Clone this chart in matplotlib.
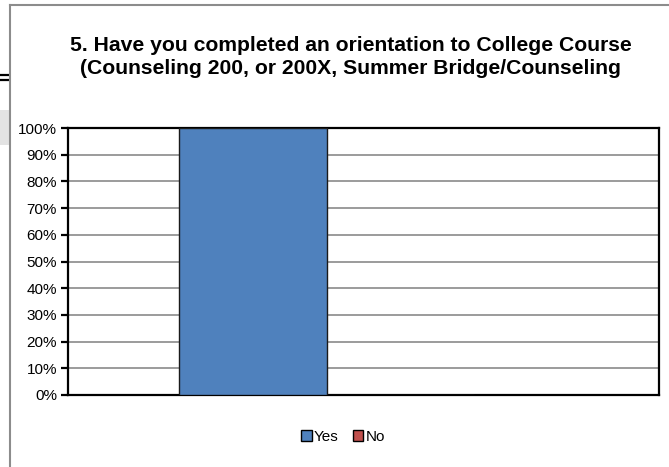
import matplotlib.pyplot as plt
from matplotlib.patches import Rectangle
from matplotlib.lines import Line2D

plt.rcParams['font.family'] = ['Liberation Sans', 'DejaVu Sans']

# Data
title = ("5. Have you completed an orientation to College Course\n"
         "(Counseling 200, or 200X, Summer Bridge/Counseling")
series = ["Yes", "No"]
values = [100, 0]
colors = ["#4F81BD", "#C0504D"]
yticks = list(range(0, 101, 10))

fig = plt.figure(figsize=(6.69, 4.67), dpi=100)

# bits of the page behind the chart (left edge)
fig.add_artist(Line2D([0, 8 / 669], [1 - 75 / 467] * 2, color="black", lw=1.6))
fig.add_artist(Line2D([0, 8 / 669], [1 - 80 / 467] * 2, color="black", lw=1.6))
fig.add_artist(Rectangle((0, 1 - 145 / 467), 9 / 669, 35 / 467, color="#e3e3e3", lw=0))

# chart area border
fig.add_artist(Line2D([9.5 / 669, 9.5 / 669], [0, 1 - 5 / 467], color="#8c8c8c", lw=1.5))
fig.add_artist(Line2D([9.5 / 669, 1], [1 - 5 / 467] * 2, color="#8c8c8c", lw=1.5))

ax = fig.add_axes([68 / 669, 1 - 395 / 467, 591 / 669, 267 / 467])

width = 0.25
for i, (name, v, c) in enumerate(zip(series, values, colors)):
    ax.bar((i - 0.5) * width, v, width, color=c, edgecolor="#1a1a1a",
           linewidth=1.0, label=name, zorder=3)

ax.set_xlim(-0.4375, 0.5625)
ax.set_ylim(0, 100)
ax.set_yticks(yticks)
ax.set_yticklabels([f"{t}%" for t in yticks], fontsize=11)
ax.set_xticks([])
ax.yaxis.grid(True, color="#8a8a8a", linewidth=1.2, zorder=0)
for s in ax.spines.values():
    s.set_linewidth(1.6)
    s.set_color("black")
ax.tick_params(axis="y", direction="out", length=5, width=1.6, pad=3)

fig.text(351 / 669, 1 - 57 / 467, title, ha="center", va="center",
         fontsize=15.2, fontweight="bold", linespacing=1.22)

leg = fig.legend(loc="center", bbox_to_anchor=(343 / 669, 1 - 437 / 467),
                 ncol=2, frameon=False, fontsize=11, handlelength=0.7,
                 handleheight=0.7, handletextpad=0.15, columnspacing=0.9)
for h in leg.legend_handles:
    h.set_edgecolor("black")

fig.savefig("out.png", dpi=100)
